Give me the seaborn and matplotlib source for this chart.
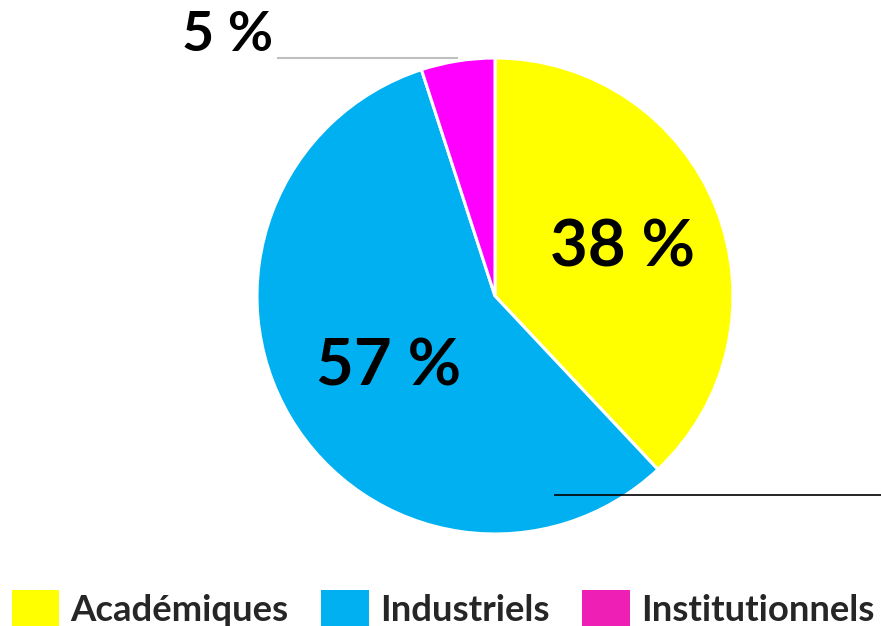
import matplotlib
matplotlib.use("Agg")
import matplotlib.pyplot as plt
import seaborn as sns
from matplotlib.patches import Patch

sns.set_theme(style="white")
plt.rcParams['font.family'] = ['Lato', 'DejaVu Sans']

categories = ["Académiques", "Industriels", "Institutionnels"]
values = [38, 57, 5]
pie_colors = ["#FFFF00", "#00B0F0", "#FF00FF"]
legend_colors = ["#FFFF00", "#00B0F0", "#EE1FB4"]
value_labels = ["38 %", "57 %", "5 %"]

W, H = 881, 626
fig = plt.figure(figsize=(W / 100, H / 100), dpi=100)
ax = fig.add_axes([0, 0, 1, 1])

ax.pie(values, colors=pie_colors, startangle=-90, counterclock=True,
       center=(495, 296), radius=238,
       wedgeprops=dict(edgecolor="white", linewidth=2.2))
ax.set_xlim(0, W)
ax.set_ylim(H, 0)
ax.set_aspect("auto")
ax.axis("off")

# value labels
ax.text(622, 248, value_labels[0], ha="center", va="center",
        fontsize=47, fontweight="bold", color="black")
ax.text(389, 367, value_labels[1], ha="center", va="center",
        fontsize=47, fontweight="bold", color="black")
ax.text(228, 35, value_labels[2], ha="center", va="center",
        fontsize=40, fontweight="bold", color="black")

# leader lines
ax.plot([277, 458], [58, 58], color="#BFBFBF", lw=1.5, solid_capstyle="butt", zorder=1)
ax.plot([554, 881], [495, 495], color="black", lw=1.2, solid_capstyle="butt", zorder=5)

handles = [Patch(facecolor=c, edgecolor="none") for c in legend_colors]
fig.legend(handles, categories, loc="lower left", bbox_to_anchor=(12 / W, -0.004),
           ncol=3, frameon=False, prop=dict(weight="bold", size=26.3),
           handlelength=1.3, handleheight=1.25, handletextpad=0.3,
           columnspacing=0.9, borderpad=0, borderaxespad=0)

fig.savefig("out.png", dpi=100, facecolor="white")
